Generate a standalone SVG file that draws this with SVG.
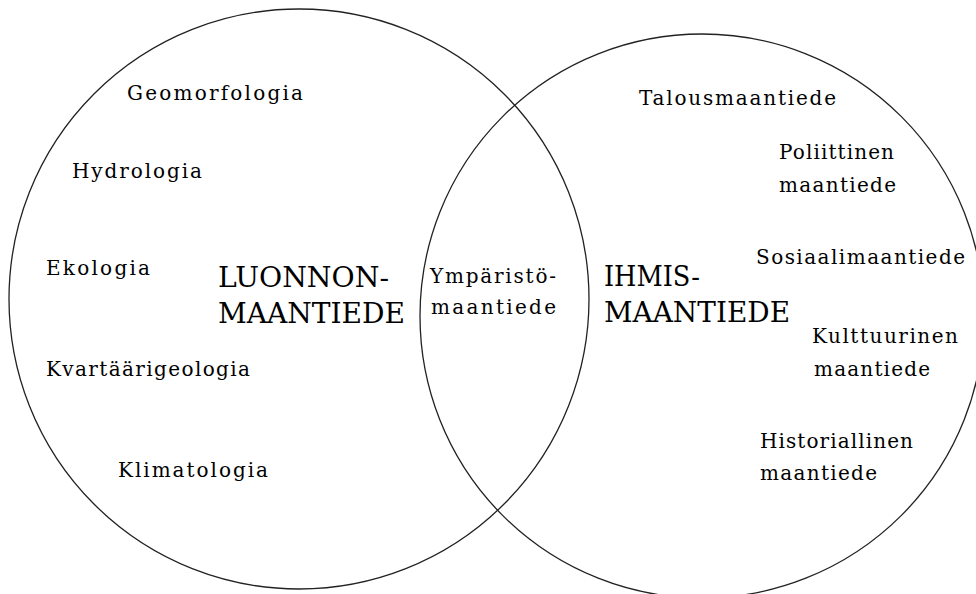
<svg xmlns="http://www.w3.org/2000/svg" width="976" height="594" viewBox="0 0 976 594">
<style>
.c{fill:none;stroke:#222;stroke-width:1.3}
text{font-family:"DejaVu Serif","Liberation Serif",serif;fill:#000}
.s{font-size:20px}
.b{font-size:27px}
</style>
<rect width="976" height="594" fill="#fff"/>
<g id="luonnonmaantiede">
<circle class="c" cx="299" cy="299" r="290"/>
<text class="b" x="218" y="287" textLength="171" lengthAdjust="spacingAndGlyphs">LUONNON-</text>
<text class="b" x="218" y="323" textLength="187" lengthAdjust="spacingAndGlyphs">MAANTIEDE</text>
</g>
<g id="ihmismaantiede">
<circle class="c" cx="702" cy="316" r="282"/>
<text class="b" x="604" y="286" textLength="96" lengthAdjust="spacingAndGlyphs">IHMIS-</text>
<text class="b" x="604" y="322" textLength="186" lengthAdjust="spacingAndGlyphs">MAANTIEDE</text>
</g>
<g id="ymparistomaantiede">
<text class="s" x="430" y="283" textLength="126" lengthAdjust="spacing">Ympäristö-</text>
<text class="s" x="431" y="314" textLength="125" lengthAdjust="spacing">maantiede</text>
</g>
<g id="geomorfologia"><text class="s" x="127" y="100" textLength="176" lengthAdjust="spacing">Geomorfologia</text></g>
<g id="hydrologia"><text class="s" x="72" y="178" textLength="130" lengthAdjust="spacing">Hydrologia</text></g>
<g id="ekologia"><text class="s" x="46" y="275" textLength="104" lengthAdjust="spacing">Ekologia</text></g>
<g id="kvartaarigeologia"><text class="s" x="46" y="376" textLength="204" lengthAdjust="spacing">Kvartäärigeologia</text></g>
<g id="klimatologia"><text class="s" x="118" y="477" textLength="150" lengthAdjust="spacing">Klimatologia</text></g>
<g id="talousmaantiede"><text class="s" x="639" y="105" textLength="197" lengthAdjust="spacing">Talousmaantiede</text></g>
<g id="poliittinen">
<text class="s" x="779" y="159" textLength="115" lengthAdjust="spacing">Poliittinen</text>
<text class="s" x="779" y="192" textLength="117" lengthAdjust="spacing">maantiede</text>
</g>
<g id="sosiaalimaantiede"><text class="s" x="756" y="264" textLength="209" lengthAdjust="spacing">Sosiaalimaantiede</text></g>
<g id="kulttuurinen">
<text class="s" x="812" y="343" textLength="146" lengthAdjust="spacing">Kulttuurinen</text>
<text class="s" x="814" y="376" textLength="116" lengthAdjust="spacing">maantiede</text>
</g>
<g id="historiallinen">
<text class="s" x="760" y="448" textLength="153" lengthAdjust="spacing">Historiallinen</text>
<text class="s" x="760" y="480" textLength="117" lengthAdjust="spacing">maantiede</text>
</g>
</svg>
